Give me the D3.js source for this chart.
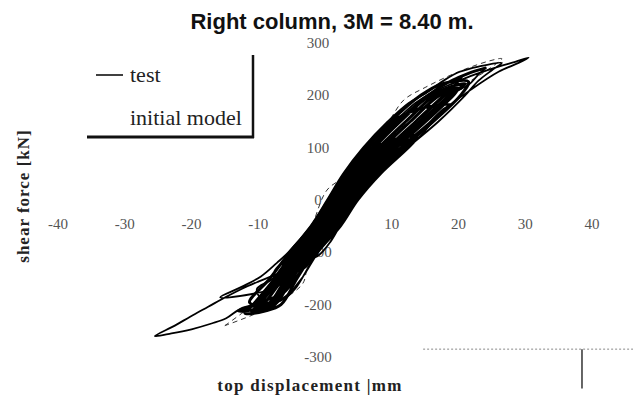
<!DOCTYPE html>
<html><head><meta charset="utf-8">
<script src="https://cdn.jsdelivr.net/npm/d3@7"></script>
<style>
html,body{margin:0;padding:0;background:#fff;}
svg{display:block;}
</style></head>
<body>
<svg id="chart" width="633" height="398"></svg>
<script>
const titleText = "Right column, 3M = 8.40 m.";
const xTitle = "top displacement |mm";
const yTitle = "shear force [kN]";
const legendLabels = ["test", "initial model"];
const xTicks = [-40, -30, -20, -10, 0, 10, 20, 30, 40];
const yTicks = [-300, -200, -100, 0, 100, 200, 300];

// test hysteresis, early cycles (dense band): [displacement mm, shear force kN]
const testEarly = [
  [-2,-60],[-0.44,-50],[2.1,0],[4.9,50],[8.4,100],[10.5,112],[12.5,115],
  [11,105],[9.05,100],[5.45,50],[2.55,0],[0,-50],[-3.35,-100],[-5,-118],[-6.5,-122],
  [-4.4,-100],[-1.1,-50],[0.5,-10],[2.0,20],[3.6,45],[5.5,60],[7.5,64],
  [6.8,45],[5.3,25],[3.9,0],[1.3,-50],[-0.8,-72],[-2.9,-80],
  [-0.9,-50],[1.65,0],[4.35,50],[7.7,100],[10.5,116],[13.8,122],
  [12.1,100],[7.9,50],[4.6,0],[2.0,-50],[-1.4,-100],[-3.0,-128],[-5,-137],[-7.6,-142],
  [-5.1,-100],[-1.8,-50],[0.75,0],[3.25,50],[6.4,100],[10.2,150],[13.5,172],[16,179],[18.7,182],
  [17.5,170],[15.9,150],[11.4,100],[7.4,50],[4.1,0],[1.5,-50],[-1.85,-100],[-4.4,-150],[-6.5,-180],[-9,-192],[-11.8,-206],
  [-10.5,-200],[-7.3,-150],[-4.4,-100],[-1.1,-50],[1.4,0],[4.1,50],[7.4,100],[11.3,150],[15.75,200],[18.5,215],[21,222],
  [20,212],[19.25,200],[15.1,150],[10.73,100],[6.83,50],[3.68,0],[1.1,-50],[-2.28,-100],[-4.9,-150],[-7.5,-200],[-9.5,-210],[-11,-213],
  [-9.9,-200],[-6.8,-150],[-4.0,-100],[-0.66,-50],[1.9,0],[4.6,50],[8.05,100],[12.1,150],[16.45,200],[18.5,210],[20.5,214],
  [19,205],[18.55,200],[14.34,150],[10.06,100],[6.28,50],[3.23,0],[0.66,-50],[-2.7,-100],[-5.38,-150],[-8.1,-200],[-10.2,-207],
  [-9.3,-200],[-6.34,-150],[-3.57,-100],[-0.22,-50],[2.33,0],[5.18,50],[8.7,100],[12.8,150],[17.15,200],[19.5,210],
  [18.3,204],[17.85,200],[13.6,150],[9.4,100],[5.73,50],[2.78,0],[0.22,-50],[-3.14,-100],[-5.86,-150],[-8.7,-200],[-11.3,-196],
  [-8.25,-150],[-5.3,-100],[-2.0,-50],[0.5,0],[3.0,50],[6.0,100],[9.8,150],[14.35,200],[17.5,222],[21.5,226],
  [20.3,200],[16.24,150],[11.73,100],[7.65,50],[4.35,0],[1.76,-50],[-1.63,-100],[-4.2,-150],[-6.6,-200],[-9,-212],[-12,-216],
  [-10.8,-200],[-7.5,-150],[-4.6,-100],[-1.3,-50],[1.2,0],[3.8,50],[7.0,100],[10.9,150],[15.4,200],[18.5,225],[20.5,236],
  [19.5,220],[18.9,200],[14.7,150],[10.4,100],[6.55,50],[3.45,0],[0.9,-50],[-2.5,-100],[-5.1,-150],[-7.8,-200],[-10,-208],[-13,-212],
  [-10.8,-200],[-7.5,-150],[-4.6,-100],[-1.3,-50],[1.2,0],[3.8,50],[7.0,100],[10.9,150],[15.4,200],[18.5,225],[21.5,242],[24,252]
];

// test hysteresis, last large cycles (thin outer loops)
const testLate = [
  [24,252],[23,240],[21.5,220],[18.2,200],[14.0,150],[9.7,100],[6.0,50],[3.0,0],[0.4,-50],[-2.9,-100],[-5.6,-150],[-8,-170],[-12,-182],[-15.7,-186],
  [-12.5,-166],[-9.6,-146],[-7.2,-120],[-5.5,-100],[-2.2,-50],[0.3,0],[2.7,50],[5.7,100],[9.4,150],[12.5,185],[15,203],[18,230],[20.2,245],[23,255],[26.5,262],
  [25,248],[23,228],[21,200],[17,150],[12.4,100],[8.2,50],[4.8,0],[2.2,-50],[-1.2,-100],[-3.0,-140],[-4.2,-165],[-5.7,-185],[-7.5,-196],[-9.4,-191],[-10.2,-170],
  [-7.8,-150],[-4.9,-100],[-1.5,-50],[1.0,0],[3.5,50],[6.7,100],[10.5,150],[13.5,185],[16,205],[19,222],[22.5,240],[26,255],[28.5,264],[30.5,272],
  [29,262],[26,245],[22,212],[17.8,172],[14.8,130],[12.6,100],[8.4,50],[5.0,0],[2.4,-50],[-1.0,-100],[-3.5,-150],[-6,-185],[-9,-198],[-12.4,-206],[-14.8,-226],[-17,-236],[-20,-247],[-23,-255],[-25.5,-260],
  [-22.5,-240],[-20.2,-223],[-17.5,-204],[-14.8,-185],[-12.5,-170],[-10,-156],[-7.5,-143],[-5.1,-131],[-3,-118],[-0.9,-105],[0.8,-80],[2.2,-50],[4.0,-10]
];

// initial model (dashed)
const modelCurve = [
  [-15,-240],[-12,-212],[-9.5,-185],[-7,-150],[-4.5,-110],[-2,-50],[0.3,19],[3.3,48],[6.2,95],[9.4,147],[11.8,191],[15,215],[20,245],[24.7,266],[26.5,270],
  [24.5,250],[20,212],[15.5,165],[11,110],[7,55],[4,5],[2.2,-38],[-0.7,-71],[-2.6,-125],[-3.3,-159],[-5.7,-185],[-10,-215],[-15,-240]
];

const svg = d3.select("#chart");
svg.append("rect").attr("width",633).attr("height",398).attr("fill","#fff");

const x = d3.scaleLinear().domain([-40,40]).range([58,592]);
const y = d3.scaleLinear().domain([-300,300]).range([357,43]);

const serif = "Liberation Serif, Times New Roman, serif";

// tick labels (no axis lines visible)
svg.append("g").selectAll("text").data(xTicks).join("text")
  .attr("x", d => x(d)).attr("y", 229)
  .attr("text-anchor","middle")
  .style("font-family", serif).attr("font-size", 15).attr("fill","#555")
  .text(d => d);

svg.append("g").selectAll("text").data(yTicks).join("text")
  .attr("x", x(0) - 7).attr("y", d => y(d) + 5)
  .attr("text-anchor","middle")
  .style("font-family", serif).attr("font-size", 15).attr("fill","#555")
  .text(d => d);

const line = d3.line().x(d => x(d[0])).y(d => y(d[1])).curve(d3.curveCatmullRom.alpha(0.5));

svg.append("path").datum(modelCurve)
  .attr("d", line).attr("fill","none")
  .attr("stroke","#333").attr("stroke-width",1).attr("stroke-dasharray","5,4");

svg.append("path").datum(testEarly)
  .attr("d", line).attr("fill","none")
  .attr("stroke","#000").attr("stroke-width",3)
  .attr("stroke-linejoin","round").attr("stroke-linecap","round");

svg.append("path").datum(testLate)
  .attr("d", line).attr("fill","none")
  .attr("stroke","#000").attr("stroke-width",1.8)
  .attr("stroke-linejoin","round").attr("stroke-linecap","round");

// title
svg.append("text").attr("x",332).attr("y",29).attr("text-anchor","middle")
  .style("font-family","Liberation Sans, Arial, sans-serif").attr("font-weight","bold")
  .attr("font-size",22).attr("fill","#111").text(titleText);

// axis titles
svg.append("text").attr("x",310).attr("y",391).attr("text-anchor","middle")
  .style("font-family", serif).attr("font-weight","bold").attr("font-size",17)
  .attr("letter-spacing",1.3).attr("fill","#222").text(xTitle);

svg.append("text").attr("transform","translate(29,196) rotate(-90)")
  .attr("text-anchor","middle")
  .style("font-family", serif).attr("font-weight","bold").attr("font-size",17)
  .attr("letter-spacing",1).attr("fill","#222").text(yTitle);

// legend
const lg = svg.append("g");
lg.append("line").attr("x1",253).attr("x2",253).attr("y1",55).attr("y2",138)
  .attr("stroke","#111").attr("stroke-width",2.5);
lg.append("line").attr("x1",87).attr("x2",254).attr("y1",137).attr("y2",137)
  .attr("stroke","#111").attr("stroke-width",3);
lg.append("line").attr("x1",96).attr("x2",123).attr("y1",75).attr("y2",75)
  .attr("stroke","#111").attr("stroke-width",1.6);
lg.selectAll("text.lt").data(legendLabels).join("text")
  .attr("class","lt")
  .attr("x",130).attr("y",(d,i) => i === 0 ? 82 : 125)
  .style("font-family", serif).attr("font-size",22).attr("fill","#222")
  .text(d => d);

// scan remnant at bottom right
svg.append("line").attr("x1",x(14.7)).attr("x2",633).attr("y1",y(-285)).attr("y2",y(-285))
  .attr("stroke","#888").attr("stroke-width",1).attr("stroke-dasharray","2,2");
svg.append("line").attr("x1",x(38.5)).attr("x2",x(38.5)).attr("y1",y(-285)).attr("y2",y(-360))
  .attr("stroke","#333").attr("stroke-width",1.5);
</script>
</body></html>
